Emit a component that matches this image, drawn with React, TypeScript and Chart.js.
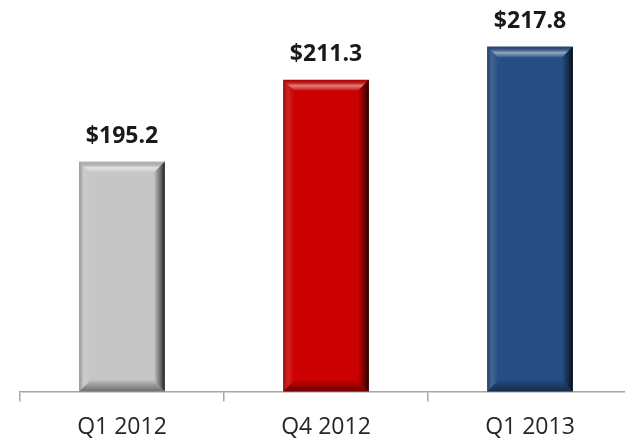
import React, { useEffect, useRef } from "react";
import { Chart, registerables } from "chart.js";

Chart.register(...registerables);

const categories = ["Q1 2012", "Q4 2012", "Q1 2013"];
const values = [195.2, 211.3, 217.8];
const barColors = ["#c6c6c6", "#cc0000", "#264e84"];
const yMin = 150;
const yMax = 225;

const bevelPlugin = {
  id: "bevel",
  afterDatasetsDraw(chart: any) {
    const ctx = chart.ctx;
    const area = chart.chartArea;
    const meta = chart.getDatasetMeta(0);
    meta.data.forEach((bar: any) => {
      const { x, y, base, width } = bar.getProps(["x", "y", "base", "width"], true);
      const L = x - width / 2;
      const R = x + width / 2;
      const T = y;
      const B = Math.min(base, area.bottom);
      const b = 11;
      ctx.save();
      // top bevel
      let g = ctx.createLinearGradient(0, T, 0, T + b);
      g.addColorStop(0, "rgba(0,0,0,0.06)");
      g.addColorStop(0.55, "rgba(255,255,255,0.5)");
      g.addColorStop(1, "rgba(255,255,255,0.05)");
      ctx.fillStyle = g;
      ctx.beginPath();
      ctx.moveTo(L, T);
      ctx.lineTo(R, T);
      ctx.lineTo(R - b, T + b);
      ctx.lineTo(L + b, T + b);
      ctx.closePath();
      ctx.fill();
      // left bevel
      g = ctx.createLinearGradient(L, 0, L + b, 0);
      g.addColorStop(0, "rgba(0,0,0,0.3)");
      g.addColorStop(0.5, "rgba(255,255,255,0.12)");
      g.addColorStop(1, "rgba(255,255,255,0)");
      ctx.fillStyle = g;
      ctx.beginPath();
      ctx.moveTo(L, T);
      ctx.lineTo(L + b, T + b);
      ctx.lineTo(L + b, B - b);
      ctx.lineTo(L, B);
      ctx.closePath();
      ctx.fill();
      // right bevel
      g = ctx.createLinearGradient(R - b, 0, R, 0);
      g.addColorStop(0, "rgba(0,0,0,0)");
      g.addColorStop(0.6, "rgba(0,0,0,0.45)");
      g.addColorStop(1, "rgba(0,0,0,0.85)");
      ctx.fillStyle = g;
      ctx.beginPath();
      ctx.moveTo(R, T);
      ctx.lineTo(R - b, T + b);
      ctx.lineTo(R - b, B - b);
      ctx.lineTo(R, B);
      ctx.closePath();
      ctx.fill();
      // bottom bevel
      g = ctx.createLinearGradient(0, B - b, 0, B);
      g.addColorStop(0, "rgba(0,0,0,0.05)");
      g.addColorStop(1, "rgba(0,0,0,0.45)");
      ctx.fillStyle = g;
      ctx.beginPath();
      ctx.moveTo(L, B);
      ctx.lineTo(L + b, B - b);
      ctx.lineTo(R - b, B - b);
      ctx.lineTo(R, B);
      ctx.closePath();
      ctx.fill();
      ctx.restore();
    });
  },
};

const labelPlugin = {
  id: "valueLabels",
  afterDatasetsDraw(chart: any) {
    const ctx = chart.ctx;
    const meta = chart.getDatasetMeta(0);
    ctx.save();
    ctx.font = "bold 23px 'Open Sans'";
    ctx.fillStyle = "#1a1a1a";
    ctx.textAlign = "center";
    ctx.textBaseline = "alphabetic";
    meta.data.forEach((bar: any, i: number) => {
      ctx.fillText("$" + values[i].toFixed(1), bar.x, bar.y - 19);
    });
    ctx.restore();
  },
};

export default function App() {
  const ref = useRef<HTMLCanvasElement>(null);
  useEffect(() => {
    if (!ref.current) return;
    const chart = new Chart(ref.current, {
      type: "bar",
      data: {
        labels: categories,
        datasets: [
          {
            data: values,
            backgroundColor: barColors,
            borderWidth: 0,
            barPercentage: 0.42,
            categoryPercentage: 1,
          },
        ],
      },
      options: {
        responsive: false,
        animation: false,
        devicePixelRatio: 1,
        layout: { padding: { top: 10, left: 20, right: 8, bottom: -15 } },
        plugins: { legend: { display: false }, tooltip: { enabled: false }, title: { display: false } },
        scales: {
          y: { display: false, min: yMin, max: yMax },
          x: {
            offset: true,
            grid: {
              offset: true,
              drawOnChartArea: false,
              drawTicks: true,
              tickLength: 10,
              color: "#a6a6a6",
              lineWidth: 1.5,
            },
            border: { display: true, color: "#a6a6a6", width: 1.5 },
            ticks: {
              font: { family: "'Open Sans'", size: 23 },
              color: "#262626",
              padding: 12,
            },
          },
        },
      },
      plugins: [bevelPlugin, labelPlugin],
    });
    return () => chart.destroy();
  }, []);
  return (
    <div
      style={{
        position: "fixed",
        left: 0,
        top: 0,
        width: 625,
        height: 438,
        overflow: "hidden",
        background: "#fff",
      }}
    >
      <canvas ref={ref} width={640} height={438} style={{ width: 640, height: 438, display: "block" }} />
    </div>
  );
}
